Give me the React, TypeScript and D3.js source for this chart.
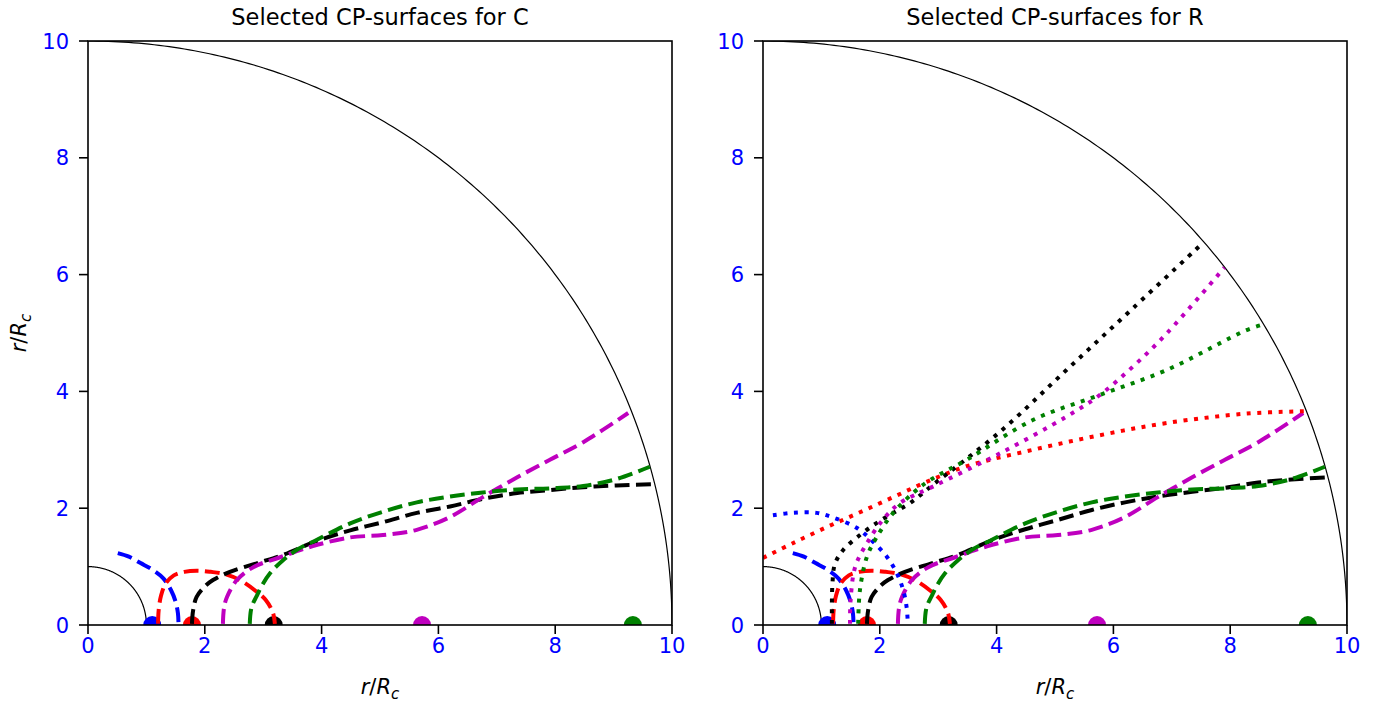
import React from 'react';
import * as d3 from 'd3';

type Pt = [number, number];

// ---------- data ----------
const xTicks = [0, 2, 4, 6, 8, 10];
const yTicks = [0, 2, 4, 6, 8, 10];
const circleRadii = [1, 10];

const dotX = [1.1, 1.78, 3.18, 5.72, 9.33];
const dotColors = ['#0000ff', '#ff0000', '#000000', '#bf00bf', '#008000'];

const blueDash: Pt[] = [[0.51, 1.23], [0.7, 1.17], [0.9, 1.06], [1.1, 0.95], [1.29, 0.8], [1.42, 0.6], [1.5, 0.4], [1.54, 0.2], [1.55, 0.02]];
const redDash: Pt[] = [[1.2, 0.02], [1.21, 0.25], [1.25, 0.5], [1.33, 0.71], [1.47, 0.85], [1.65, 0.91], [1.86, 0.93], [2.1, 0.91], [2.35, 0.87], [2.6, 0.77], [2.85, 0.6], [3.05, 0.42], [3.17, 0.2], [3.2, 0.02]];
const blackDashC: Pt[] = [[1.78, 0.02], [1.8, 0.25], [1.86, 0.48], [2.0, 0.66], [2.14, 0.77], [2.43, 0.91], [2.9, 1.06], [3.34, 1.2], [3.92, 1.44], [4.49, 1.62], [5.05, 1.76], [5.63, 1.92], [6.2, 2.03], [6.76, 2.16], [7.35, 2.26], [7.91, 2.31], [8.48, 2.36], [9.05, 2.39], [9.68, 2.41]];
const blackDashR: Pt[] = [[1.78, 0.02], [1.8, 0.25], [1.86, 0.48], [2.0, 0.66], [2.14, 0.77], [2.43, 0.91], [2.9, 1.06], [3.34, 1.2], [3.92, 1.45], [4.49, 1.64], [5.05, 1.8], [5.63, 1.97], [6.2, 2.1], [6.76, 2.2], [7.35, 2.28], [7.91, 2.35], [8.48, 2.44], [9.05, 2.49], [9.66, 2.53]];
const greenDash: Pt[] = [[2.77, 0.02], [2.8, 0.3], [2.89, 0.5], [2.98, 0.68], [3.12, 0.89], [3.34, 1.11], [3.6, 1.3], [3.92, 1.46], [4.49, 1.74], [5.05, 1.94], [5.63, 2.1], [6.2, 2.2], [6.76, 2.27], [7.35, 2.32], [7.91, 2.34], [8.48, 2.38], [9.05, 2.5], [9.62, 2.71]];
const magentaDash: Pt[] = [[2.31, 0.02], [2.33, 0.3], [2.38, 0.48], [2.55, 0.77], [2.83, 0.99], [3.29, 1.16], [3.85, 1.35], [4.49, 1.5], [5.05, 1.54], [5.63, 1.63], [6.2, 1.85], [6.76, 2.19], [7.35, 2.53], [7.91, 2.83], [8.48, 3.13], [9.25, 3.63]];

const blueDot: Pt[] = [[0.17, 1.88], [0.51, 1.92], [0.92, 1.92], [1.2, 1.84], [1.61, 1.66], [1.88, 1.43], [2.12, 1.17], [2.29, 0.89], [2.4, 0.6], [2.46, 0.3], [2.48, 0.02]];
const redDot: Pt[] = [[0.0, 1.15], [0.51, 1.4], [1.1, 1.68], [1.66, 1.93], [2.23, 2.19], [2.8, 2.45], [3.49, 2.72], [4.62, 3.0], [5.77, 3.25], [6.92, 3.46], [8.28, 3.62], [9.28, 3.66]];
const blackDot: Pt[] = [[1.18, 0.02], [1.18, 0.4], [1.19, 0.72], [1.23, 1.04], [1.37, 1.28], [1.66, 1.54], [1.95, 1.75], [2.23, 1.92], [2.52, 2.09], [2.91, 2.4], [4.06, 3.31], [5.2, 4.37], [6.34, 5.43], [7.53, 6.54]];
const magentaDot: Pt[] = [[1.49, 0.02], [1.5, 0.43], [1.58, 1.0], [1.78, 1.4], [2.05, 1.8], [2.35, 2.09], [2.91, 2.37], [4.06, 2.94], [5.2, 3.57], [5.77, 3.94], [6.34, 4.43], [6.92, 5.0], [7.9, 6.12]];
const greenDot: Pt[] = [[1.63, 0.02], [1.66, 0.6], [1.78, 1.17], [1.95, 1.51], [2.23, 1.92], [2.57, 2.26], [2.86, 2.48], [3.49, 2.83], [4.62, 3.51], [5.77, 3.94], [6.92, 4.37], [8.28, 5.05], [8.58, 5.15]];

const titles = ['Selected CP-surfaces for C', 'Selected CP-surfaces for R'];

type Curve = { pts: Pt[]; color: string; dotted: boolean };
const curvesC: Curve[] = [
  { pts: blueDash, color: '#0000ff', dotted: false },
  { pts: redDash, color: '#ff0000', dotted: false },
  { pts: blackDashC, color: '#000000', dotted: false },
  { pts: magentaDash, color: '#bf00bf', dotted: false },
  { pts: greenDash, color: '#008000', dotted: false },
];
const curvesR: Curve[] = [
  { pts: blueDash, color: '#0000ff', dotted: false },
  { pts: redDash, color: '#ff0000', dotted: false },
  { pts: blackDashR, color: '#000000', dotted: false },
  { pts: magentaDash, color: '#bf00bf', dotted: false },
  { pts: greenDash, color: '#008000', dotted: false },
  { pts: blueDot, color: '#0000ff', dotted: true },
  { pts: redDot, color: '#ff0000', dotted: true },
  { pts: blackDot, color: '#000000', dotted: true },
  { pts: magentaDot, color: '#bf00bf', dotted: true },
  { pts: greenDot, color: '#008000', dotted: true },
];

// ---------- layout ----------
const W = 1387, H = 704;
const SIZE = 584;
const TOP = 41;
const LEFTS = [88, 763];
const FONT = 'DejaVu Sans, sans-serif';
const LW = 4;

const x = d3.scaleLinear().domain([0, 10]).range([0, SIZE]);
const y = d3.scaleLinear().domain([0, 10]).range([SIZE, 0]);
const line = d3.line<Pt>().x(d => x(d[0])).y(d => y(d[1])).curve(d3.curveCatmullRom.alpha(0.5));
const arcLine = d3.line<Pt>().x(d => x(d[0])).y(d => y(d[1]));
const arcPts = (r: number): Pt[] => d3.range(0, 181).map(i => {
  const a = (i / 180) * (Math.PI / 2);
  return [r * Math.cos(a), r * Math.sin(a)] as Pt;
});

const Label = ({ x: lx, y: ly, rotate }: { x: number; y: number; rotate?: boolean }) => (
  <text x={lx} y={ly} fontFamily={FONT} fontSize={21} textAnchor="middle"
    transform={rotate ? `rotate(-90 ${lx} ${ly})` : undefined}>
    <tspan fontStyle="italic">r</tspan>
    <tspan>/</tspan>
    <tspan fontStyle="italic">R</tspan>
    <tspan fontStyle="italic" fontSize={15} dy={5}>c</tspan>
  </text>
);

const Panel = ({ idx, curves }: { idx: number; curves: Curve[] }) => {
  const left = LEFTS[idx];
  const clipId = `clip${idx}`;
  return (
    <g transform={`translate(${left},${TOP})`}>
      <defs>
        <clipPath id={clipId}><rect x={0} y={0} width={SIZE} height={SIZE} /></clipPath>
      </defs>
      <text x={SIZE / 2} y={-16} textAnchor="middle" fontFamily={FONT} fontSize={22.5} fill="#000">{titles[idx]}</text>
      <g clipPath={`url(#${clipId})`}>
        {circleRadii.map(r => (
          <path key={r} d={arcLine(arcPts(r)) || ''} fill="none" stroke="#000" strokeWidth={1.2} />
        ))}
        {dotX.map((dx, i) => (
          <circle key={i} cx={x(dx)} cy={y(0)} r={9} fill={dotColors[i]} />
        ))}
        {curves.map((c, i) => (
          <path key={i} d={line(c.pts) || ''} fill="none" stroke={c.color} strokeWidth={LW}
            strokeDasharray={c.dotted ? '4 6.6' : '14.8 6.4'} strokeLinecap="butt" />
        ))}
      </g>
      <rect x={0} y={0} width={SIZE} height={SIZE} fill="none" stroke="#000" strokeWidth={1.6} />
      {xTicks.map(t => (
        <g key={'x' + t}>
          <line x1={x(t)} x2={x(t)} y1={SIZE} y2={SIZE + 9} stroke="#000" strokeWidth={1.6} />
          <text x={x(t)} y={SIZE + 28} textAnchor="middle" fontFamily={FONT} fontSize={21} fill="#0000ff">{t}</text>
        </g>
      ))}
      {yTicks.map(t => (
        <g key={'y' + t}>
          <line x1={-9} x2={0} y1={y(t)} y2={y(t)} stroke="#000" strokeWidth={1.6} />
          <text x={-19} y={y(t) + 7.5} textAnchor="end" fontFamily={FONT} fontSize={21} fill="#0000ff">{t}</text>
        </g>
      ))}
      <Label x={SIZE / 2} y={SIZE + 69} />
      {idx === 0 && <Label x={-62} y={SIZE / 2} rotate />}
    </g>
  );
};

export default function App() {
  return (
    <svg width={W} height={H} style={{ position: 'absolute', left: 0, top: 0, background: '#fff' }}>
      <rect width={W} height={H} fill="#fff" />
      <Panel idx={0} curves={curvesC} />
      <Panel idx={1} curves={curvesR} />
    </svg>
  );
}
